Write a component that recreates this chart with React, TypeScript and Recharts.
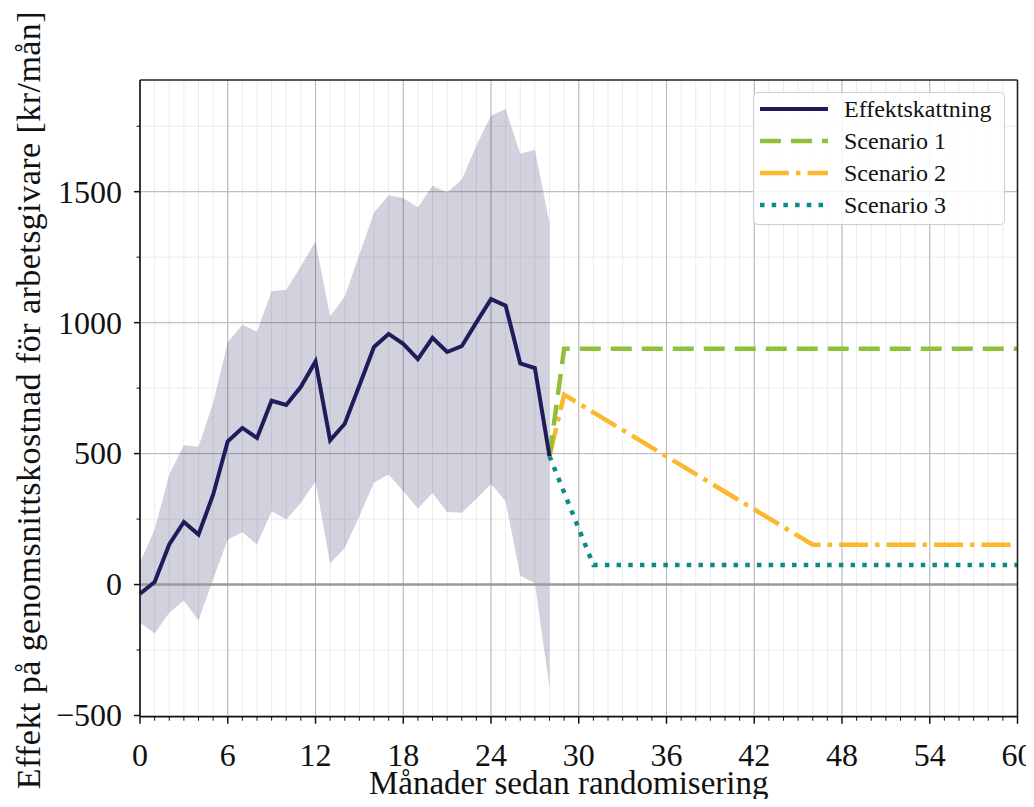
import { ComposedChart, Line, Area, XAxis, YAxis, CartesianGrid, ReferenceLine, Legend, Label } from "recharts";

// månader 0..28 (uppmätt effekt med konfidensband)
const effekt = [-35, 10, 153, 239, 191, 343, 547, 598, 560, 702, 686, 755, 852, 551, 614, 760, 907, 957, 919, 861, 942, 888, 910, 1001, 1090, 1065, 844, 827, 490];
const ciLower = [-145, -187, -108, -61, -137, 20, 172, 200, 153, 280, 248, 312, 394, 80, 140, 261, 390, 420, 356, 290, 350, 277, 274, 328, 384, 318, 34, 6, -394];
const ciUpper = [84, 210, 420, 532, 526, 693, 925, 992, 965, 1120, 1126, 1215, 1310, 1024, 1100, 1260, 1421, 1486, 1476, 1440, 1523, 1497, 1546, 1676, 1790, 1816, 1645, 1660, 1381];

// scenarier: brytpunkter
const scenario1Months = [28, 29, 60];
const scenario1 = [490, 900, 900];
const scenario2Months = [28, 29, 46, 60];
const scenario2 = [490, 725, 152, 152];
const scenario3Months = [28, 31, 60];
const scenario3 = [490, 75, 75];

const xMajor = [0, 6, 12, 18, 24, 30, 36, 42, 48, 54, 60];
const xMinor = [0, 1, 2, 3, 4, 5, 6, 7, 8, 9, 10, 11, 12, 13, 14, 15, 16, 17, 18, 19, 20, 21, 22, 23, 24, 25, 26, 27, 28, 29, 30, 31, 32, 33, 34, 35, 36, 37, 38, 39, 40, 41, 42, 43, 44, 45, 46, 47, 48, 49, 50, 51, 52, 53, 54, 55, 56, 57, 58, 59, 60];
const yMajor = [-500, 0, 500, 1000, 1500];
const yMinor = [-500, -250, 0, 250, 500, 750, 1000, 1250, 1500, 1750];
const Y_MIN = -504.5;
const Y_MAX = 1926.5;

const legendNames = ["Effektskattning", "Scenario 1", "Scenario 2", "Scenario 3"];
const legendColors = ["#201c5c", "#8fc03c", "#fbb82c", "#0b8a87"];
const legendDash = ["", "21 10", "29 7 4.5 7", "4.5 7.2"];

const FONT = "'Liberation Serif', 'DejaVu Serif', serif";

const data = xMinor.map((m) => {
  const row: any = { month: m };
  if (m < effekt.length) {
    row.effekt = effekt[m];
    row.band = [ciLower[m], ciUpper[m]];
  }
  const i1 = scenario1Months.indexOf(m);
  if (i1 >= 0) row.s1 = scenario1[i1];
  const i2 = scenario2Months.indexOf(m);
  if (i2 >= 0) row.s2 = scenario2[i2];
  const i3 = scenario3Months.indexOf(m);
  if (i3 >= 0) row.s3 = scenario3[i3];
  return row;
});

function XTick(props: any) {
  const { x, y, payload } = props;
  const major = xMajor.includes(payload.value);
  return (
    <g>
      <line x1={x} x2={x} y1={y} y2={y + (major ? 7 : 4)} stroke="#111" strokeWidth={major ? 1.5 : 1} />
      {major && (
        <text x={x} y={y + 49} textAnchor="middle" fontFamily={FONT} fontSize={32} fill="#111">
          {payload.value}
        </text>
      )}
    </g>
  );
}

function YTick(props: any) {
  const { x, y, payload } = props;
  const major = yMajor.includes(payload.value);
  const label = payload.value < 0 ? "\u2212" + Math.abs(payload.value) : String(payload.value);
  return (
    <g>
      <line x1={x - (major ? 6 : 3.5)} x2={x} y1={y} y2={y} stroke="#111" strokeWidth={major ? 1.5 : 1} />
      {major && (
        <text x={x - 18} y={y} dy="0.34em" textAnchor="end" fontFamily={FONT} fontSize={32} fill="#111">
          {label}
        </text>
      )}
    </g>
  );
}

function YTitle(props: any) {
  const vb = props.viewBox;
  const cx = vb.x + 32;
  const cy = vb.y + vb.height / 2 + 2;
  return (
    <text
      x={cx}
      y={cy}
      textAnchor="middle"
      transform={`rotate(-90 ${cx} ${cy})`}
      fontFamily={FONT}
      fontSize={34}
      textLength={778}
      lengthAdjust="spacing"
      fill="#111"
    >
      Effekt på genomsnittskostnad för arbetsgivare [kr/mån]
    </text>
  );
}

function XTitle(props: any) {
  const vb = props.viewBox;
  return (
    <text x={vb.x + vb.width / 2 - 10} y={vb.y + 77} textAnchor="middle" fontFamily={FONT} fontSize={33} fill="#111">
      Månader sedan randomisering
    </text>
  );
}

function LegendBox() {
  return (
    <div
      style={{
        boxSizing: "border-box",
        width: 252,
        height: 133,
        border: "1.5px solid #cfcfcf",
        borderRadius: 5,
        background: "rgba(255,255,255,0.85)",
      }}
    >
      {legendNames.map((name, i) => (
        <div key={name} style={{ height: 32, display: "flex", alignItems: "center" }}>
          <svg width={84} height={32} style={{ flex: "none" }}>
            <line
              x1={6}
              x2={74}
              y1={16}
              y2={16}
              stroke={legendColors[i]}
              strokeWidth={i === 0 ? 4 : 4.5}
              strokeDasharray={legendDash[i] || undefined}
            />
          </svg>
          <span style={{ fontFamily: FONT, fontSize: 24, color: "#111", marginLeft: 6 }}>{name}</span>
        </div>
      ))}
    </div>
  );
}

export default function App() {
  // yttre div är 8px lägre än diagrammet så att sidan inte får rullist
  return (
    <div style={{ width: 1018, height: 791 }}>
      <style>{`.recharts-surface { overflow: visible; } .recharts-wrapper { overflow: visible; }`}</style>
      <ComposedChart width={1026} height={799} data={data} margin={{ top: 72, right: 16.5, left: 0, bottom: 0 }}>
        <CartesianGrid verticalValues={xMinor} horizontalValues={yMinor} stroke="#ebebeb" strokeWidth={1} />
        <CartesianGrid verticalValues={xMajor} horizontalValues={yMajor} stroke="#b5b5b5" strokeWidth={1} />
        <XAxis
          type="number"
          dataKey="month"
          domain={[0, 60]}
          ticks={xMinor}
          interval={0}
          tickLine={false}
          tickSize={0}
          tickMargin={0}
          height={90.3}
          axisLine={{ stroke: "#111", strokeWidth: 1.6 }}
          tick={<XTick />}
        >
          <Label content={XTitle} />
        </XAxis>
        <YAxis
          type="number"
          domain={[Y_MIN, Y_MAX]}
          ticks={yMinor}
          interval={0}
          tickLine={false}
          tickSize={0}
          tickMargin={0}
          width={132}
          axisLine={{ stroke: "#111", strokeWidth: 1.6 }}
          tick={<YTick />}
          allowDataOverflow
        >
          <Label content={YTitle} />
        </YAxis>
        <Area
          dataKey="band"
          type="linear"
          stroke="none"
          fill={legendColors[0]}
          fillOpacity={0.2}
          isAnimationActive={false}
          legendType="none"
          activeDot={false}
        />
        <ReferenceLine y={0} stroke="#9a9a9a" strokeWidth={2.5} />
        <Line dataKey="s3" type="linear" stroke={legendColors[3]} strokeWidth={4.5} strokeDasharray={legendDash[3]} dot={false} activeDot={false} connectNulls isAnimationActive={false} />
        <Line dataKey="s2" type="linear" stroke={legendColors[2]} strokeWidth={4.5} strokeDasharray={legendDash[2]} dot={false} activeDot={false} connectNulls isAnimationActive={false} />
        <Line dataKey="s1" type="linear" stroke={legendColors[1]} strokeWidth={4.5} strokeDasharray={legendDash[1]} dot={false} activeDot={false} connectNulls isAnimationActive={false} />
        <Line dataKey="effekt" type="linear" stroke={legendColors[0]} strokeWidth={4} dot={false} activeDot={false} isAnimationActive={false} />
        <ReferenceLine y={Y_MAX} stroke="#222" strokeWidth={1.6} />
        <ReferenceLine x={60} stroke="#222" strokeWidth={1.6} />
        <Legend
          layout="horizontal"
          verticalAlign="middle"
          align="center"
          content={<LegendBox />}
          wrapperStyle={{ left: 745, top: 84, width: 252, height: 133 }}
        />
      </ComposedChart>
    </div>
  );
}
